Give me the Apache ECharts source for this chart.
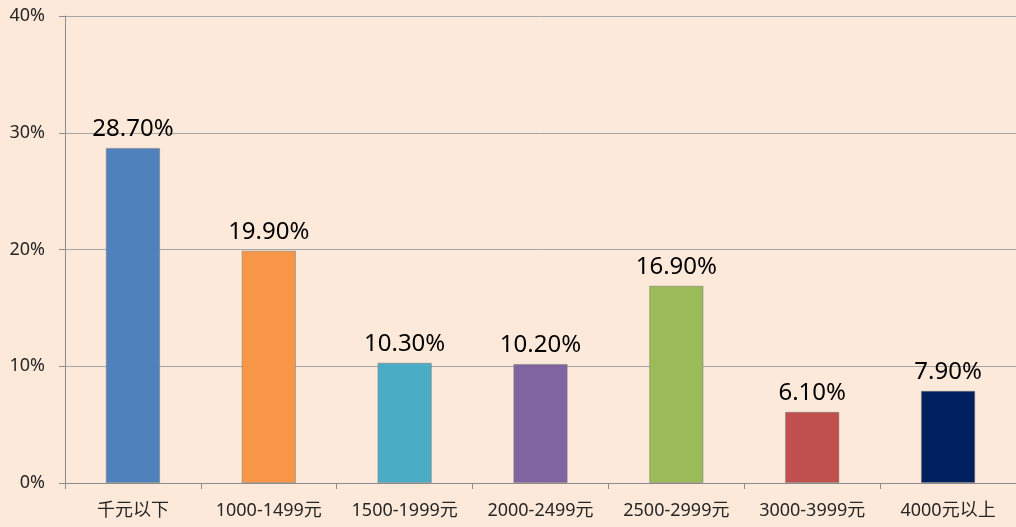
<!DOCTYPE html>
<html>
<head>
<meta charset="utf-8">
<script src="https://cdn.jsdelivr.net/npm/echarts@6/dist/echarts.min.js"></script>
<style>
html, body { margin: 0; padding: 0; background: #FDE9D9; }
#chart { width: 1016px; height: 527px; }
</style>
</head>
<body>
<div id="chart"></div>
<script>
// 价格区间
var categories = ['千元以下', '1000-1499元', '1500-1999元', '2000-2499元', '2500-2999元', '3000-3999元', '4000元以上'];
// 占比 (%)
var shares = [28.7, 19.9, 10.3, 10.2, 16.9, 6.1, 7.9];
var barColors = ['#4F81BD', '#F79646', '#4BACC6', '#8064A2', '#9BBB59', '#C0504D', '#002060'];

var chart = echarts.init(document.getElementById('chart'));

var option = {
    backgroundColor: '#FDE9D9',
    animation: false,
    grid: { left: 65, right: 0, top: 16, bottom: 44 },
    xAxis: {
        type: 'category',
        data: categories,
        axisLine: { lineStyle: { color: '#8C8C8C', width: 1 } },
        axisTick: { show: true, length: 6, lineStyle: { color: '#8C8C8C' } },
        axisLabel: {
            interval: 0,
            color: '#262626',
            fontSize: 18,
            fontFamily: 'Noto Sans, Noto Sans CJK SC',
            margin: 19
        }
    },
    yAxis: {
        type: 'value',
        min: 0,
        max: 40,
        interval: 10,
        axisLine: { show: true, lineStyle: { color: '#8C8C8C', width: 1 } },
        axisTick: { show: true, length: 6, lineStyle: { color: '#8C8C8C' } },
        splitLine: { lineStyle: { color: '#A6A6A6', width: 1 } },
        axisLabel: {
            formatter: '{value}%',
            color: '#262626',
            fontSize: 18,
            fontFamily: 'Noto Sans',
            margin: 20
        }
    },
    series: [{
        type: 'bar',
        barWidth: '40%',
        data: shares.map(function (v, i) {
            return { value: v, itemStyle: { color: barColors[i] } };
        }),
        itemStyle: { borderColor: 'rgba(120,120,120,0.5)', borderWidth: 1 },
        label: {
            show: true,
            position: 'top',
            distance: 7,
            color: '#000000',
            fontSize: 24,
            fontFamily: 'Noto Sans',
            formatter: function (p) { return p.value.toFixed(2) + '%'; }
        }
    }]
};

chart.setOption(option);
</script>
</body>
</html>
